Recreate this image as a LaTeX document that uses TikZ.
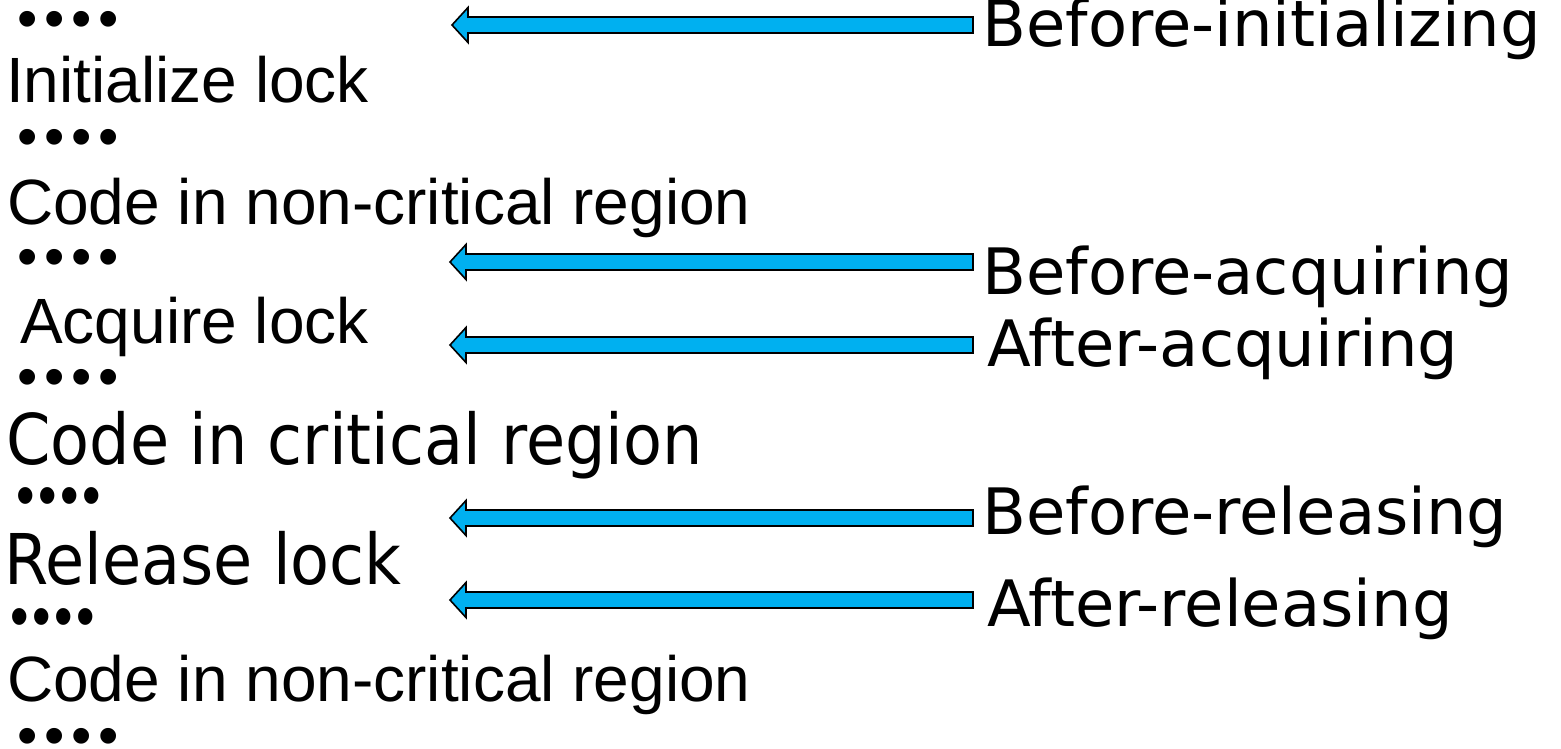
\documentclass[tikz,border=0pt]{standalone}
\usepackage{fontspec}
\setmainfont{Liberation Sans}
\newfontfamily\verd{DejaVu Sans}
\newfontfamily\verdcond[FakeStretch=0.91]{DejaVu Sans}
\newfontfamily\bullets[LetterSpace=11.5]{Liberation Sans}
\newfontfamily\bulletscond[LetterSpace=6,FakeStretch=0.85]{Liberation Sans}
\usepackage{tikz}
\usetikzlibrary{calc}

\definecolor{arrowblue}{RGB}{0,176,240}

% block arrow pointing left, #1 = tail, #2 = tip
\newcommand{\blockarrow}[2]{%
  \path let \p1=(#1), \p2=(#2) in
    [draw=black, fill=arrowblue, line width=1.6pt, line join=miter]
    (\x1,\y1+8pt) -- (\x2+16pt,\y1+8pt) -- (\x2+16pt,\y1+17.5pt) -- (\x2,\y1)
    -- (\x2+16pt,\y1-17.5pt) -- (\x2+16pt,\y1-8pt) -- (\x1,\y1-8pt) -- cycle;}

\begin{document}
\begin{tikzpicture}[x=1pt,y=-1pt,
		code/.style={anchor=base west, inner sep=0pt, font=\fontsize{64}{70}\selectfont},
		codecond/.style={code, font=\verdcond\fontsize{70}{76}\selectfont},
		dots/.style={anchor=base west, inner sep=0pt, text height=26pt, text depth=0pt, font=\bullets\fontsize{58}{60}\selectfont},
		dotscond/.style={dots, font=\bulletscond\fontsize{62}{64}\selectfont},
		tag/.style={anchor=base west, inner sep=0pt, font=\verd\fontsize{64}{70}\selectfont}]
	\useasboundingbox (0,0) rectangle (1561,748);
	% program listing
	\node[dots] (d1) at (17,38) {••••};
	\node[code] (init) at (6,102) {Initialize lock};
	\node[dots] (d2) at (17,156) {••••};
	\node[code] (nc1) at (7,224) {Code in non-critical region};
	\node[dots] (d3) at (17,276) {••••};
	\node[code] (acq) at (20,343) {Acquire lock};
	\node[dots] (d4) at (17,396) {••••};
	\node[codecond] (cr) at (6,464) {Code in critical region};
	\node[dotscond] (d5) at (16,516) {••••};
	\node[codecond] (rel) at (4,584) {Release lock};
	\node[dotscond] (d6) at (10,637) {••••};
	\node[code] (nc2) at (7,701) {Code in non-critical region};
	\node[dots] (d7) at (17,755) {••••};
	% probe points
	\node[tag] (binit) at (982,46) {Before-initializing};
	\node[tag] (bacq) at (982,294) {Before-acquiring};
	\node[tag] (aacq) at (987,366) {After-acquiring};
	\node[tag] (brel) at (982,534) {Before-releasing};
	\node[tag] (arel) at (987,626) {After-releasing};
	% arrows
	\coordinate (tl1) at (973,25);  \coordinate (tp1) at (452,25);
	\coordinate (tl2) at (973,262); \coordinate (tp2) at (450,262);
	\coordinate (tl3) at (973,345); \coordinate (tp3) at (450,345);
	\coordinate (tl4) at (973,518); \coordinate (tp4) at (450,518);
	\coordinate (tl5) at (973,600); \coordinate (tp5) at (450,600);
	\blockarrow{tl1}{tp1}
	\blockarrow{tl2}{tp2}
	\blockarrow{tl3}{tp3}
	\blockarrow{tl4}{tp4}
	\blockarrow{tl5}{tp5}
\end{tikzpicture}
\end{document}
